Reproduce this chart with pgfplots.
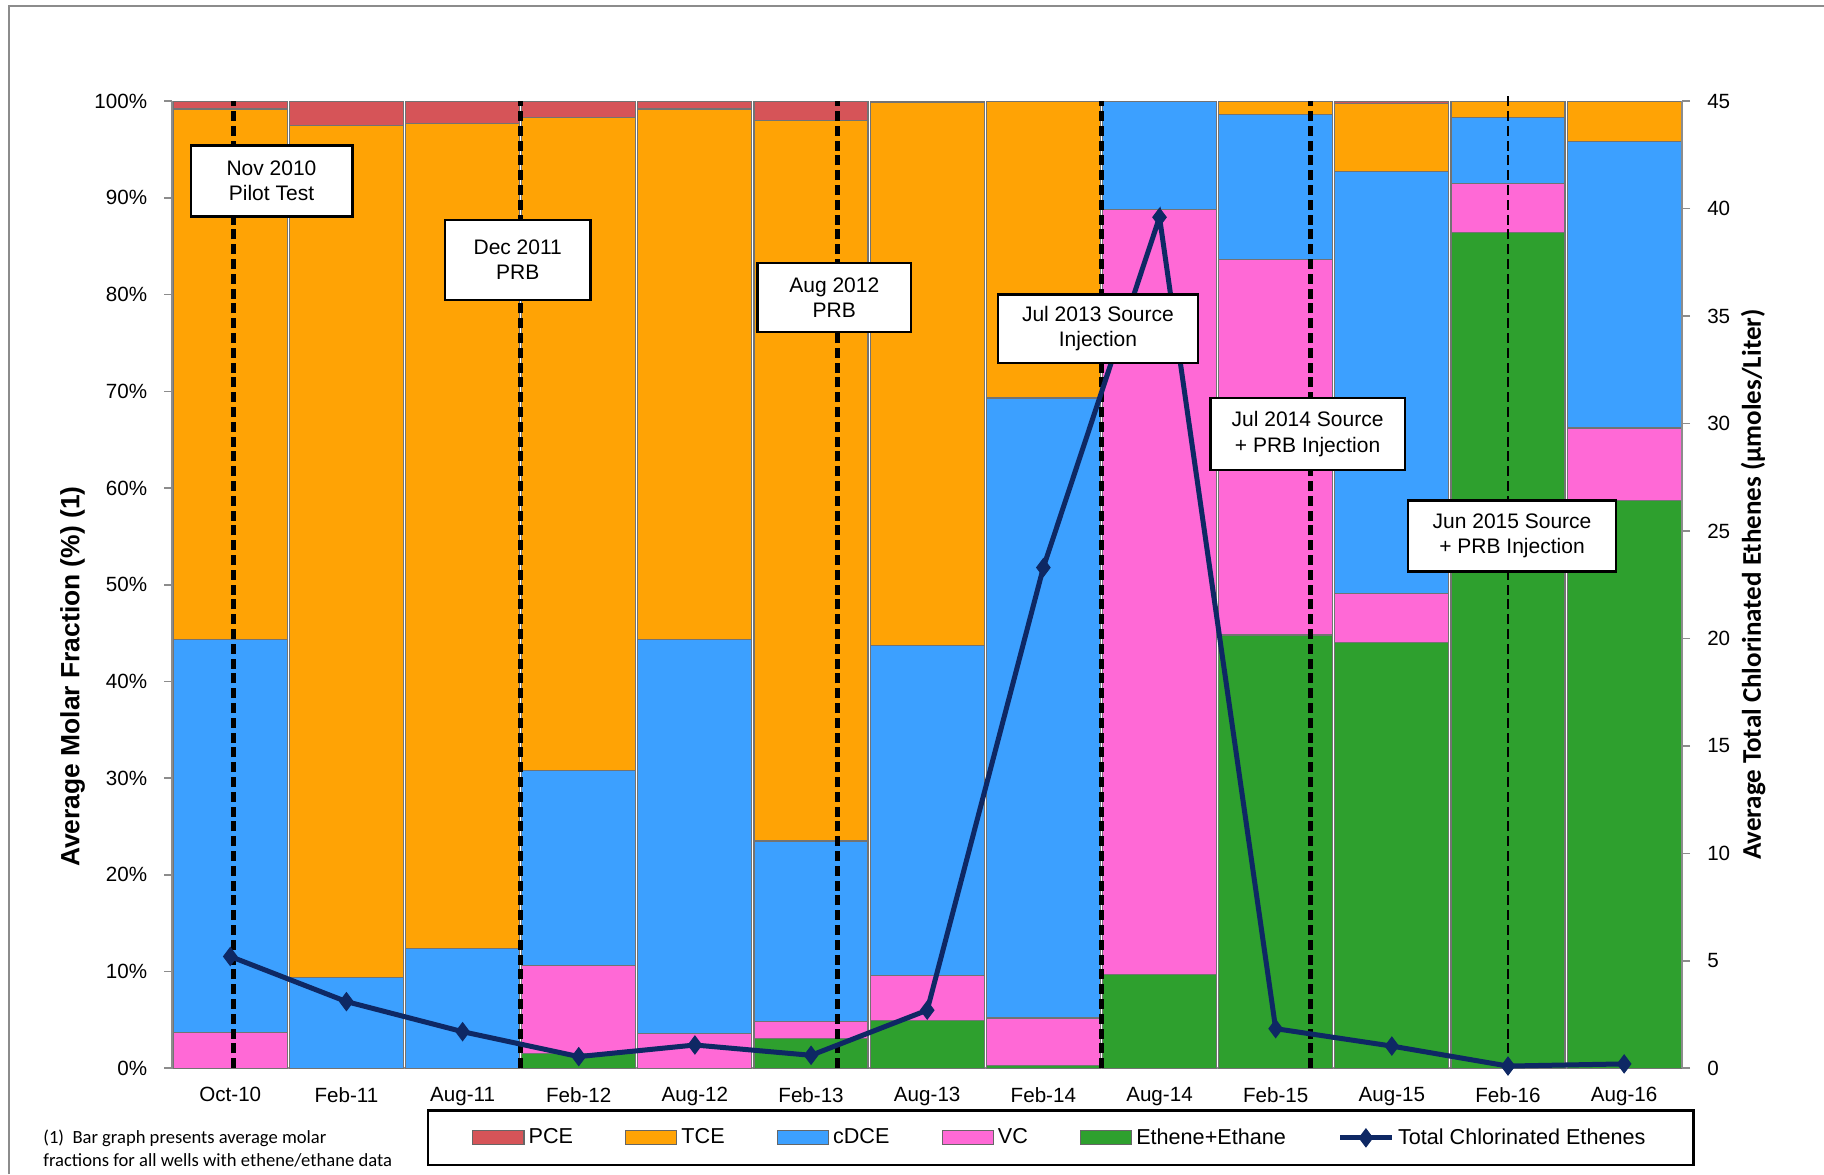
\documentclass[border=0pt]{standalone}
\usepackage{fontspec}
\setmainfont{Liberation Sans}
\newfontfamily\calibri{Carlito}
\usepackage{pgfplots}
\usepackage{pgfplotstable}
\pgfplotsset{compat=1.18}

\definecolor{pce}{RGB}{214,84,88}
\definecolor{tce}{RGB}{255,163,5}
\definecolor{cdce}{RGB}{60,160,255}
\definecolor{vc}{RGB}{255,105,214}
\definecolor{eth}{RGB}{46,160,46}
\definecolor{navy}{RGB}{14,40,100}
\definecolor{axgray}{RGB}{140,140,140}

% columns: position, ethene+ethane, VC, cDCE, TCE, PCE (molar %), total CE (umol/L)
\pgfplotstableread{
x  Eth   VC    cDCE  TCE   PCE  Tot
0  0.0   3.7   40.6  54.9  0.8  5.2
1  0.0   0.0   9.4   88.1  2.5  3.1
2  0.0   0.0   12.4  85.3  2.3  1.7
3  1.5   9.1   20.2  67.5  1.7  0.54
4  0.0   3.6   40.7  54.9  0.8  1.08
5  3.1   1.7   18.7  74.5  2.0  0.6
6  4.9   4.7   34.1  56.2  0.1  2.7
7  0.3   4.9   64.1  30.7  0.0  23.3
8  9.7   79.1  11.2  0.0   0.0  39.6
9  44.8  38.8  15.0  1.4   0.0  1.84
10 44.0  5.1   43.6  7.1   0.2  1.03
11 86.4  5.1   6.8   1.7   0.0  0.1
12 58.7  7.5   29.6  4.2   0.0  0.2
}\molar

\tikzset{
  box/.style={draw=black, line width=1.2pt, fill=white, align=center, inner sep=2pt,
    font=\fontsize{10.5}{12.6}\selectfont},
  evt/.style={black, line width=2.3pt, dash pattern=on 5pt off 2.4pt},
}
\pgfplotsset{
  /pgf/number format/assume math mode=true,
  swatch/.style={legend image code/.code={\draw[##1] (0pt,-3.5pt) rectangle (25.6pt,3.5pt);}},
  lineswatch/.style={legend image code/.code={\draw[##1,mark repeat=2,mark phase=2] plot coordinates {(0pt,0pt) (12.8pt,0pt) (25.6pt,0pt)};}},
  base/.style={
    at={(0,0)}, anchor=south west,
    scale only axis, width=755pt, height=483.5pt,
    xmin=-0.5, xmax=12.5,
    axis line style={draw=axgray, line width=0.8pt},
    tick style={draw=axgray, line width=0.8pt},
    tick align=outside, major tick length=4pt,
    ticklabel style={font=\fontsize{10.3}{12}\selectfont},
  },
}

\begin{document}
\begin{tikzpicture}
\path[use as bounding box] (-86.1pt,-53pt) rectangle (825.9pt,534.1pt);
\draw[axgray, line width=0.8pt] (-81.6pt,-53pt) -- (-81.6pt,531pt) -- (825.9pt,531pt);

\begin{axis}[base,
  ybar stacked, bar width=57pt,
  ymin=0, ymax=100,
  axis x line*=bottom, axis y line*=left,
  xtick={0,...,12},
  xticklabels={Oct-10,Feb-11,Aug-11,Feb-12,Aug-12,Feb-13,Aug-13,Feb-14,Aug-14,Feb-15,Aug-15,Feb-16,Aug-16},
  x tick style={draw=none},
  xticklabel style={yshift=-2pt},
  ytick={0,10,...,100},
  yticklabel={\pgfmathprintnumber{\tick}\%},
  yticklabel style={xshift=-5pt},
  ylabel={\fontsize{13.2}{15}\selectfont\bfseries Average Molar Fraction (\%) (1)},
  ylabel style={at={(axis description cs:-0.066,0.405)}, anchor=center},
]
\addplot[fill=eth, draw=black!55, line width=0.6pt] table[x=x, y=Eth] {\molar};
\addplot[fill=vc, draw=black!55, line width=0.6pt] table[x=x, y=VC] {\molar};
\addplot[fill=cdce, draw=black!55, line width=0.6pt] table[x=x, y=cDCE] {\molar};
\addplot[fill=tce, draw=black!55, line width=0.6pt] table[x=x, y=TCE] {\molar};
\addplot[fill=pce, draw=black!55, line width=0.6pt] table[x=x, y=PCE] {\molar};
\end{axis}

\begin{axis}[base,
  ymin=0, ymax=45,
  axis y line*=right, axis x line=none,
  ytick={0,5,...,45},
  yticklabel style={xshift=5pt},
  clip=false,
  ylabel={\calibri\fontsize{13.5}{16}\selectfont\bfseries Average Total Chlorinated Ethenes (µmoles/Liter)},
  ylabel style={at={(axis description cs:1.047,0.5)}, anchor=center},
  legend columns=6,
  legend style={at={(0.5885,-0.072)}, anchor=center, draw=black, line width=1.2pt,
    inner xsep=22pt, inner ysep=7pt,
    font=\fontsize{10.8}{13}\selectfont,
    /tikz/every even column/.append style={column sep=24pt}},
]
\addplot[evt, forget plot] coordinates {(0.03,0) (0.03,45)};
\addplot[evt, forget plot] coordinates {(2.5,0) (2.5,45)};
\addplot[evt, forget plot] coordinates {(5.23,0) (5.23,45)};
\addplot[evt, forget plot] coordinates {(7.5,0) (7.5,45)};
\addplot[evt, forget plot] coordinates {(9.3,0) (9.3,45)};
\addplot[evt, line width=1.4pt, forget plot] coordinates {(11.0,0) (11.0,45.4)};

\addlegendimage{swatch, fill=pce, draw=black!60, line width=0.6pt}
\addlegendimage{swatch, fill=tce, draw=black!60, line width=0.6pt}
\addlegendimage{swatch, fill=cdce, draw=black!60, line width=0.6pt}
\addlegendimage{swatch, fill=vc, draw=black!60, line width=0.6pt}
\addlegendimage{swatch, fill=eth, draw=black!60, line width=0.6pt}
\addplot[lineswatch, navy, line width=2.5pt, mark=diamond*, mark size=4.5pt, mark options={solid, line width=0.5pt}]
  table[x=x, y=Tot] {\molar};
\legend{PCE,TCE,cDCE,VC,Ethene+Ethane,Total Chlorinated Ethenes}

\node[box, minimum width=80.8pt, minimum height=35.5pt] at (axis cs:0.355,41.29) {Nov 2010\\Pilot Test};
\node[box, minimum width=72.7pt, minimum height=40.1pt] at (axis cs:2.475,37.61) {Dec 2011\\PRB};
\node[box, minimum width=76.8pt, minimum height=34.3pt] at (axis cs:5.2,35.87) {Aug 2012\\PRB};
\node[box, minimum width=100pt, minimum height=34.3pt] at (axis cs:7.47,34.41) {Jul 2013 Source\\Injection};
\node[box, minimum width=97.1pt, minimum height=36pt] at (axis cs:9.275,29.51) {Jul 2014 Source\\+ PRB Injection};
\node[box, minimum width=104.1pt, minimum height=35.5pt] at (axis cs:11.035,24.77) {Jun 2015 Source\\+ PRB Injection};
\end{axis}

\node[anchor=north west, align=left, inner sep=0pt, font=\calibri\fontsize{9.3}{11.6}\selectfont]
  at (-64.6pt,-30.7pt) {(1)\ \ Bar graph presents average molar\\fractions for all wells with ethene/ethane data};
\end{tikzpicture}
\end{document}
